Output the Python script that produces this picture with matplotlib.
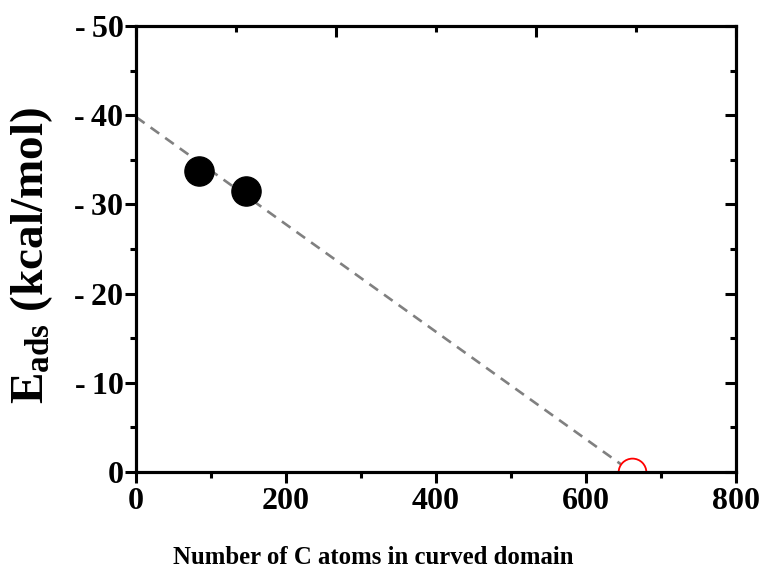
import matplotlib
matplotlib.use("Agg")
import matplotlib.pyplot as plt
from matplotlib.ticker import MultipleLocator, FixedLocator

# Data
carbon_atoms = [84, 146]
e_ads = [-33.7, -31.5]
open_x = [661]
open_y = [0.0]
fit_x = [0, 661]
fit_y = [-39.8, 0.0]
xticks = [0, 200, 400, 600, 800]
yticks = [0, -10, -20, -30, -40, -50]
ytick_labels = ['0', '-\u200910', '-\u200920', '-\u200930', '-\u200940', '-\u200950']

plt.rcParams['font.family'] = ['Liberation Serif', 'DejaVu Serif']
plt.rcParams['font.weight'] = 'bold'
plt.rcParams['mathtext.fontset'] = 'custom'
plt.rcParams['mathtext.rm'] = 'Liberation Serif:bold'
plt.rcParams['mathtext.bf'] = 'Liberation Serif:bold'
plt.rcParams['mathtext.it'] = 'Liberation Serif:bold'

fig = plt.figure(figsize=(7.63, 5.69), dpi=100)
ax = fig.add_axes([136/763, 1-472/569, 600/763, 446/569])

ax.plot(fit_x, fit_y, linestyle=(0, (4, 2.8)), color='#808080', lw=1.9, zorder=2)
ax.plot(carbon_atoms, e_ads, 'o', color='black', markersize=21, zorder=3)
ax.plot(open_x, open_y, 'o', markerfacecolor='white', markeredgecolor='red',
        markeredgewidth=1.3, markersize=20, zorder=4)
ax.plot(open_x, open_y, '.', color='red', markersize=2, zorder=5)

ax.set_xlim(0, 800)
ax.set_ylim(0, -50)
ax.set_xticks(xticks)
ax.set_yticks(yticks)
ax.xaxis.set_minor_locator(MultipleLocator(100))
ax.yaxis.set_minor_locator(MultipleLocator(5))
ax.set_xticklabels([str(v) for v in xticks])
ax.set_yticklabels(ytick_labels)

for s in ax.spines.values():
    s.set_linewidth(2.2)
ax.tick_params(which='major', direction='out', length=8, width=2.2,
               labelsize=23, pad=1)
ax.tick_params(which='minor', direction='out', length=4, width=2.2)
ax.tick_params(axis='x', which='major', pad=3)

for lab in ax.get_xticklabels() + ax.get_yticklabels():
    lab.set_fontweight('bold')

# right side ticks (inward)
axr = ax.twinx()
axr.set_ylim(0, -50)
axr.set_yticks(yticks)
axr.yaxis.set_minor_locator(MultipleLocator(5))
axr.tick_params(which='major', direction='in', length=8, width=2.2, labelright=False)
axr.tick_params(which='minor', direction='in', length=4, width=2.2)
for s in axr.spines.values():
    s.set_linewidth(2.2)

# top ticks (inward)
axt = ax.twiny()
axt.set_xlim(0, 6)
axt.xaxis.set_major_locator(FixedLocator([0, 2, 4, 6]))
axt.xaxis.set_minor_locator(FixedLocator([1, 3, 5]))
axt.tick_params(which='major', direction='in', length=8, width=2.2, labeltop=False)
axt.tick_params(which='minor', direction='in', length=4, width=2.2)
for s in axt.spines.values():
    s.set_linewidth(2.2)

fig.text(32/763, 1-255/569, r'$\mathbf{E_{ads}}$ (kcal/mol)', rotation=90,
         ha='center', va='center', fontsize=34, fontweight='bold')
fig.text(373/763, 1-564/569, 'Number of C atoms in curved domain',
         ha='center', va='baseline', fontsize=17.8, fontweight='bold')

fig.savefig('out.png', dpi=100)
